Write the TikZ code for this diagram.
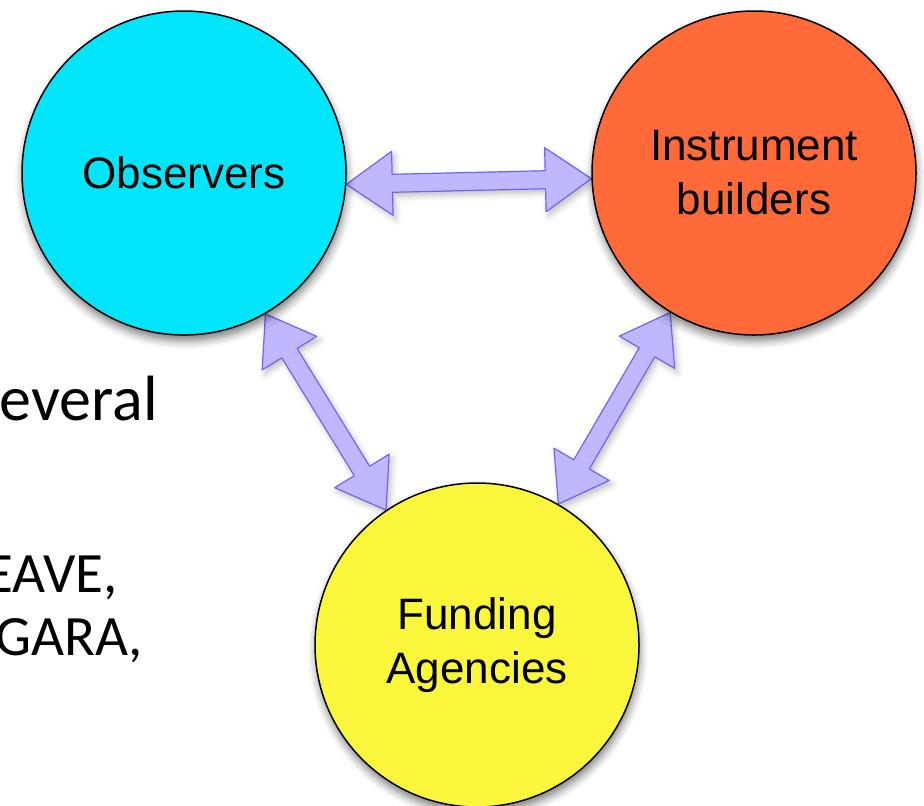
\documentclass[tikz,border=0pt]{standalone}
\usepackage{fontspec}
\setmainfont{Carlito}
\newfontfamily\labelfont{Liberation Sans}
\usetikzlibrary{calc,backgrounds,shadows.blur}
\definecolor{obscyan}{RGB}{0,229,250}
\definecolor{insorange}{RGB}{255,106,56}
\definecolor{fundyellow}{RGB}{250,246,60}
\definecolor{arrfill}{RGB}{192,184,255}
\definecolor{arrline}{RGB}{112,100,240}
\newcommand{\headlen}{23pt}
\newcommand{\headwide}{16pt}
\newcommand{\shaftwide}{4.5pt}
\newcommand{\FatArrow}[2]{%
  \path ($(#1)!\headlen!(#2)$) coordinate (ha) ($(#2)!\headlen!(#1)$) coordinate (hb);
  \draw[fatarrow] (#1) -- ($(ha)!\headwide!90:(#2)$) -- ($(ha)!\shaftwide!90:(#2)$)
    -- ($(hb)!\shaftwide!-90:(#1)$) -- ($(hb)!\headwide!-90:(#1)$) -- (#2)
    -- ($(hb)!\headwide!90:(#1)$) -- ($(hb)!\shaftwide!90:(#1)$)
    -- ($(ha)!\shaftwide!-90:(#2)$) -- ($(ha)!\headwide!-90:(#2)$) -- cycle;}

\begin{document}
\begin{tikzpicture}[x=0.5pt,y=-0.5pt,
    group/.style={circle,draw=black,line width=0.75pt,minimum size=162pt,inner sep=0pt,
      align=center,font=\labelfont\fontsize{22}{27}\selectfont,
      blur shadow={shadow xshift=0.5pt,shadow yshift=-3pt,shadow blur radius=4pt,shadow opacity=50}},
    fatarrow/.style={fill=arrfill,draw=arrline,line width=0.6pt,line join=round,
      blur shadow={shadow xshift=1.5pt,shadow yshift=-2pt,shadow blur radius=3pt,shadow opacity=25}},
    slide/.style={inner sep=0pt,anchor=base east}]
  \useasboundingbox (0,0) rectangle (924,805);
  \clip (0,0) rectangle (924,805);
  % text of the slide behind
  \node[slide,font=\fontsize{32}{38}\selectfont] (sev) at (158,420) {everal};
  \node[slide,font=\fontsize{28.5}{34}\selectfont] (eave) at (118,592) {EAVE,};
  \node[slide,font=\fontsize{28.5}{34}\selectfont] (gara) at (143,655) {GARA,};

  \node[group,fill=obscyan] (obs) at (184,173) {Observers};
  \node[group,fill=insorange] (ins) at (754,173) {Instrument\\builders};
  \node[group,fill=fundyellow] (fund) at (477,645) {Funding\\Agencies};

  % arrows go under the circles
  \begin{pgfonlayer}{background}
    \FatArrow{obs.-4}{ins.182}
    \FatArrow{obs.-60}{fund.124}
    \FatArrow{ins.-121}{fund.60}
  \end{pgfonlayer}
\end{tikzpicture}
\end{document}
